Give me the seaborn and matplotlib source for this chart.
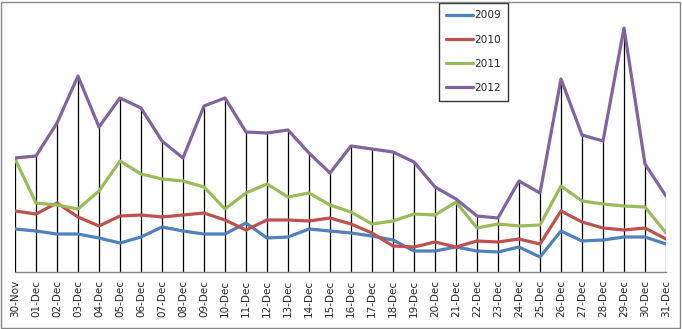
import matplotlib
matplotlib.use("Agg")
import matplotlib.pyplot as plt
import seaborn as sns
import pandas as pd
import numpy as np
from matplotlib.patches import Rectangle

categories = ["30-Nov"] + [f"{d:02d}-Dec" for d in range(1, 32)]
years = ["2009", "2010", "2011", "2012"]
v2009 = [43, 41, 38, 38, 34, 29, 35, 45, 41, 38, 38, 49, 34, 35, 43, 41, 39, 36, 32, 21, 21, 25, 21, 20, 25, 15, 41, 31, 32, 35, 35, 28]
v2010 = [61, 58, 69, 55, 46, 56, 57, 55, 57, 59, 52, 42, 52, 52, 51, 54, 48, 39, 26, 25, 30, 25, 31, 30, 33, 28, 61, 50, 44, 42, 44, 33]
v2011 = [113, 69, 67, 63, 81, 111, 98, 93, 91, 85, 63, 79, 88, 75, 79, 67, 60, 48, 51, 58, 57, 70, 44, 48, 46, 47, 86, 71, 68, 66, 65, 39]
v2012 = [114, 116, 149, 196, 145, 174, 164, 131, 114, 166, 174, 140, 139, 142, 119, 99, 126, 123, 120, 110, 85, 73, 56, 54, 91, 79, 193, 137, 131, 244, 108, 76]
colors = ["#4F81BD", "#C0504D", "#9BBB59", "#8064A2"]

series = [v2009, v2010, v2011, v2012]
df = pd.DataFrame({
    "pos": np.tile(np.arange(len(categories)), len(years)),
    "value": np.concatenate(series),
    "year": np.repeat(years, len(categories)),
})

sns.set_style("white")
plt.rcParams["font.family"] = ["DejaVu Sans"]

W, H = 682, 329
fig = plt.figure(figsize=(W / 100, H / 100), dpi=100)
ax = fig.add_axes([15 / W, (H - 272) / H, 651 / W, 260 / H])

# drop lines
tops = np.max(np.array(series), axis=0)
ax.vlines(np.arange(len(categories)), 0, tops, color="black", linewidth=0.9, zorder=1)

sns.lineplot(data=df, x="pos", y="value", hue="year", palette=colors,
             linewidth=2.3, ax=ax, zorder=3, legend=True)

ax.set_xlim(0, len(categories) - 1)
ax.set_ylim(0, 260)
ax.set_xticks(np.arange(len(categories)))
ax.set_xticklabels(categories, rotation=90, fontsize=7.5)
ax.tick_params(axis="x", length=0, pad=6)
ax.set_yticks([])
ax.set_xlabel("")
ax.set_ylabel("")
for s in ["top", "right", "left"]:
    ax.spines[s].set_visible(False)
ax.spines["bottom"].set_color("#868686")
ax.spines["bottom"].set_linewidth(1.0)

leg = ax.legend(loc="upper left", bbox_to_anchor=(439 / W, 1 - 3 / H),
                bbox_transform=fig.transFigure, borderaxespad=0,
                frameon=True, fancybox=False, edgecolor="black",
                fontsize=7.6, handlelength=2.5, handletextpad=0.1,
                labelspacing=1.35, borderpad=0.7, title=None)
leg.get_frame().set_linewidth(1.0)
for line in leg.get_lines():
    line.set_linewidth(2.3)

fig.patches.append(Rectangle((1 / W, 1 / H), (W - 3) / W, (H - 3) / H,
                             transform=fig.transFigure, fill=False,
                             edgecolor="#868686", linewidth=1.0))

fig.savefig("out.png", dpi=100)
